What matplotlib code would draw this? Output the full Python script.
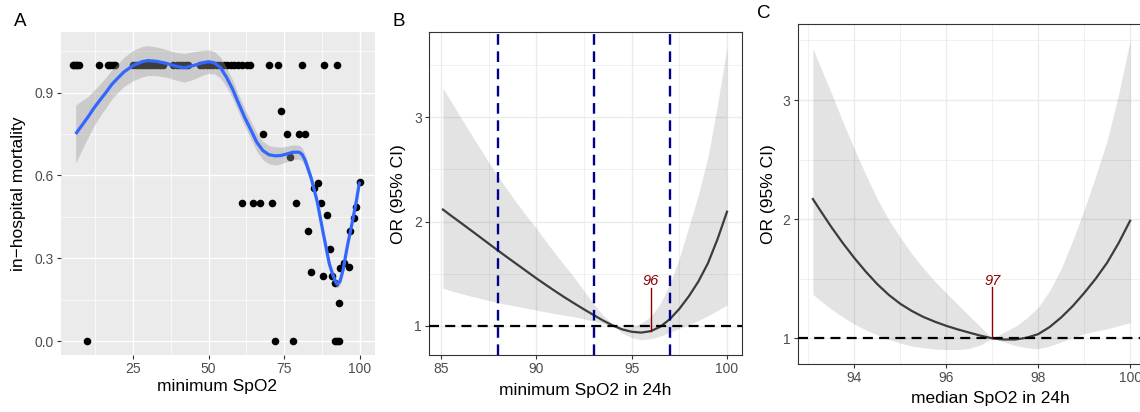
import matplotlib
matplotlib.use("Agg")
import matplotlib.pyplot as plt
from matplotlib.ticker import FixedLocator
import numpy as np

plt.rcParams['font.family'] = ['Liberation Sans', 'DejaVu Sans']

# ---------------- Panel A data ----------------
# patients with mortality 1.0 (top row)
a_top_x = [5, 5.5, 6, 6.6, 7, 13.7, 16.6, 17.4, 18.5, 19.2,
           25, 26, 27, 28, 29, 30, 31, 32, 33, 34, 35,
           38.3, 39.5, 40.5, 41.5, 42.5, 43.2,
           47.2, 48.3, 49.4, 50.5, 51.6, 52.7,
           53.8, 55, 56.2, 57.4, 58.6, 59.8, 61, 62.6, 63.7,
           70.1, 73.1, 81, 88.2, 92.6]
# remaining points
a_oth_x = [74.0, 68.0, 76.0, 79.9, 82.1, 77.0,
           61, 64.8, 67.1, 71.0, 79, 87.3,
           86.1, 85.0, 100, 89.1, 99, 98.1, 83.1, 96.7,
           90.2, 94.8, 96.4, 93.6, 84.0, 88.0, 90.9, 92.0, 93.1,
           9.8, 72, 78, 91.9, 92.5, 93.3]
a_oth_y = [0.833, 0.75, 0.75, 0.75, 0.75, 0.667,
           0.5, 0.5, 0.5, 0.5, 0.5, 0.5,
           0.571, 0.556, 0.577, 0.457, 0.484, 0.444, 0.4, 0.4,
           0.333, 0.281, 0.269, 0.263, 0.25, 0.236, 0.236, 0.211, 0.136,
           0, 0, 0, 0, 0, 0]

a_smooth_x = [6, 8, 10, 12, 14, 16, 18, 20, 22, 25, 28, 30, 33, 36, 39, 42, 45, 48,
              50, 52, 54, 56, 58, 60, 62, 64, 66, 68, 70, 72, 74, 76, 78, 80, 81,
              82, 84, 86, 88, 90, 91, 92, 92.6, 93.5, 94.5, 96, 97.5, 99, 100]
a_smooth_y = [0.75, 0.78, 0.81, 0.843, 0.872, 0.90, 0.93, 0.953, 0.975, 0.998, 1.012,
              1.016, 1.013, 1.006, 0.996, 0.99, 0.998, 1.008, 1.012, 1.008, 0.99, 0.955,
              0.912, 0.86, 0.81, 0.765, 0.72, 0.69, 0.675, 0.671, 0.672, 0.678, 0.684,
              0.684, 0.676, 0.655, 0.59, 0.505, 0.39, 0.28, 0.245, 0.215, 0.207, 0.215,
              0.255, 0.345, 0.425, 0.51, 0.577]
a_band_half = [0.105, 0.09, 0.075, 0.065, 0.058, 0.055, 0.053, 0.052, 0.053, 0.055,
               0.055, 0.054, 0.052, 0.05, 0.05, 0.052, 0.05, 0.045, 0.043, 0.04, 0.038,
               0.035, 0.033, 0.032, 0.032, 0.032, 0.033, 0.033, 0.033, 0.033, 0.03,
               0.028, 0.027, 0.025, 0.024, 0.022, 0.018, 0.016, 0.015, 0.015, 0.015,
               0.015, 0.015, 0.015, 0.015, 0.015, 0.015, 0.015, 0.015]

# ---------------- Panel B data ----------------
b_x = [85.1, 85.5, 86, 86.5, 87, 87.5, 88, 88.5, 89, 89.5, 90, 90.5, 91, 91.5, 92,
       92.5, 93, 93.5, 94, 94.2, 94.5, 95, 95.5, 96, 96.5, 97, 97.5, 98, 98.5, 99,
       99.5, 100]
b_or = [2.115, 2.06, 1.993, 1.925, 1.857, 1.788, 1.72, 1.653, 1.587, 1.521, 1.455,
        1.392, 1.330, 1.270, 1.213, 1.157, 1.103, 1.05, 1.003, 0.988, 0.965, 0.942,
        0.934, 0.948, 0.99, 1.063, 1.162, 1.283, 1.425, 1.60, 1.83, 2.094]
b_hi = [3.28, 3.16, 3.01, 2.86, 2.715, 2.57, 2.43, 2.30, 2.17, 2.05, 1.935, 1.81,
        1.69, 1.575, 1.46, 1.335, 1.21, 1.10, 1.015, 1.0, 0.985, 0.99, 1.025, 1.09,
        1.21, 1.40, 1.65, 1.95, 2.26, 2.62, 3.12, 3.68]
b_lo = [1.36, 1.337, 1.31, 1.287, 1.265, 1.242, 1.22, 1.202, 1.185, 1.167, 1.15,
        1.132, 1.115, 1.10, 1.085, 1.065, 1.045, 1.02, 0.99, 0.975, 0.93, 0.885,
        0.865, 0.875, 0.90, 0.935, 0.975, 1.012, 1.05, 1.095, 1.145, 1.199]
b_cutoffs = [88, 93, 97]
b_nadir = 96
b_nadir_or = 0.95

# ---------------- Panel C data ----------------
c_x = [93.1, 93.25, 93.5, 93.75, 94, 94.25, 94.5, 94.75, 95, 95.25, 95.5, 95.75,
       96, 96.25, 96.5, 96.75, 97, 97.25, 97.5, 97.75, 98, 98.25, 98.5, 98.75, 99,
       99.25, 99.5, 99.75, 100]
c_or = [2.169, 2.08, 1.935, 1.80, 1.675, 1.56, 1.455, 1.365, 1.29, 1.23, 1.18, 1.14,
        1.105, 1.075, 1.048, 1.022, 1.0, 0.99, 0.99, 1.005, 1.035, 1.095, 1.175,
        1.27, 1.38, 1.50, 1.635, 1.80, 1.987]
c_hi = [3.433, 3.29, 3.06, 2.82, 2.59, 2.375, 2.17, 1.995, 1.85, 1.71, 1.59, 1.48,
        1.38, 1.285, 1.19, 1.095, 1.0, 1.05, 1.10, 1.17, 1.26, 1.40, 1.585, 1.82,
        2.08, 2.36, 2.66, 3.05, 3.50]
c_lo = [1.369, 1.32, 1.245, 1.18, 1.12, 1.07, 1.03, 0.99, 0.96, 0.935, 0.92, 0.91,
        0.905, 0.905, 0.915, 0.945, 1.0, 0.97, 0.94, 0.92, 0.912, 0.935, 0.97, 1.005,
        1.04, 1.06, 1.08, 1.105, 1.131]
c_nadir = 97
c_nadir_or = 1.0

W, H = 1140, 412
fig = plt.figure(figsize=(W / 100, H / 100), dpi=100)


def rect(l, r, t, b):
    return [l / W, 1 - b / H, (r - l) / W, (b - t) / H]


TICKC = '#333333'
LABC = '#4D4D4D'

# ---------------- Panel A ----------------
axA = fig.add_axes(rect(61, 375, 32, 355))
axA.set_facecolor('#EBEBEB')
for s in axA.spines.values():
    s.set_visible(False)
axA.set_xlim(1.16, 105.13)
axA.set_ylim(-0.0507, 1.1196)
axA.xaxis.set_major_locator(FixedLocator([25, 50, 75, 100]))
axA.xaxis.set_minor_locator(FixedLocator([12.5, 37.5, 62.5, 87.5]))
axA.yaxis.set_major_locator(FixedLocator([0, 0.3, 0.6, 0.9]))
axA.yaxis.set_minor_locator(FixedLocator([0.15, 0.45, 0.75, 1.05]))
axA.set_yticklabels(['0.0', '0.3', '0.6', '0.9'])
axA.grid(which='major', color='white', lw=1.0)
axA.grid(which='minor', color='white', lw=0.5)
axA.set_axisbelow(True)
axA.scatter(a_top_x, [1.0] * len(a_top_x), s=30, color='black', zorder=2, linewidths=0)
axA.scatter(a_oth_x, a_oth_y, s=30, color='black', zorder=2, linewidths=0)
sx = np.array(a_smooth_x)
sy = np.array(a_smooth_y)
hw = np.array(a_band_half)
axA.fill_between(sx, sy - hw, sy + hw, color='#999999', alpha=0.4, lw=0, zorder=3)
axA.plot(sx, sy, color='#3366FF', lw=2.3, zorder=4, solid_capstyle='butt')
axA.set_xlabel('minimum SpO2', fontsize=12.5)
axA.set_ylabel('in\u2212hospital mortality', fontsize=12.5)
axA.xaxis.set_label_coords((217 - 61) / 314, (355 - 386) / 323)
axA.yaxis.set_label_coords((19 - 61) / 314, 0.5)
axA.xaxis.label.set_va('center')
axA.yaxis.label.set_va('center')

# ---------------- Panel B ----------------
axB = fig.add_axes(rect(429, 741.7, 32.3, 355))
axB.set_xlim(84.37, 100.77)
axB.set_ylim(0.719, 3.816)
axB.xaxis.set_major_locator(FixedLocator([85, 90, 95, 100]))
axB.xaxis.set_minor_locator(FixedLocator([87.5, 92.5, 97.5]))
axB.yaxis.set_major_locator(FixedLocator([1, 2, 3]))
axB.yaxis.set_minor_locator(FixedLocator([1.5, 2.5, 3.5]))
axB.fill_between(b_x, b_lo, b_hi, color='black', alpha=0.11, lw=0, zorder=2)
axB.plot(b_x, b_or, color='#3C3C3C', lw=1.6, zorder=3)
axB.axhline(1, color='black', lw=1.6, dashes=(4.5, 2.8), zorder=4)
for xc in b_cutoffs:
    axB.axvline(xc, color='#00008B', lw=1.7, dashes=(4.5, 2.8), zorder=4)
axB.plot([b_nadir, b_nadir], [b_nadir_or, 1.36], color='#8B0000', lw=1.0, zorder=5)
axB.text(b_nadir, 1.43, str(b_nadir), color='#8B0000', fontsize=10.5, style='italic',
         ha='center', va='center', zorder=5)
axB.set_xlabel('minimum SpO2 in 24h', fontsize=12.5)
axB.set_ylabel('OR (95% CI)', fontsize=12.5)
axB.xaxis.set_label_coords((585 - 429) / 312.7, (355 - 390) / 322.7)
axB.yaxis.set_label_coords((399 - 429) / 312.7, 0.5)
axB.xaxis.label.set_va('center')
axB.yaxis.label.set_va('center')

# ---------------- Panel C ----------------
axC = fig.add_axes(rect(797.7, 1146, 24, 364.3))
axC.set_xlim(92.77, 100.345)
axC.set_ylim(0.782, 3.638)
axC.xaxis.set_major_locator(FixedLocator([94, 96, 98, 100]))
axC.xaxis.set_minor_locator(FixedLocator([93, 95, 97, 99]))
axC.yaxis.set_major_locator(FixedLocator([1, 2, 3]))
axC.yaxis.set_minor_locator(FixedLocator([1.5, 2.5, 3.5]))
axC.fill_between(c_x, c_lo, c_hi, color='black', alpha=0.11, lw=0, zorder=2)
axC.plot(c_x, c_or, color='#3C3C3C', lw=1.6, zorder=3)
axC.axhline(1, color='black', lw=1.6, dashes=(4.5, 2.8), zorder=4)
axC.plot([c_nadir, c_nadir], [c_nadir_or, 1.43], color='#8B0000', lw=1.0, zorder=5)
axC.text(c_nadir, 1.48, str(c_nadir), color='#8B0000', fontsize=10.5, style='italic',
         ha='center', va='center', zorder=5)
axC.set_xlabel('median SpO2 in 24h', fontsize=12.5)
axC.set_ylabel('OR (95% CI)', fontsize=12.5)
axC.xaxis.set_label_coords((990 - 797.7) / 348.3, (364.3 - 398) / 340.3)
axC.yaxis.set_label_coords((768 - 797.7) / 348.3, 0.5)
axC.xaxis.label.set_va('center')
axC.yaxis.label.set_va('center')

for ax in (axB, axC):
    ax.set_facecolor('white')
    for s in ax.spines.values():
        s.set_color('#333333')
        s.set_linewidth(0.8)
    ax.grid(which='major', color='#EBEBEB', lw=1.0)
    ax.grid(which='minor', color='#EBEBEB', lw=0.5)
    ax.set_axisbelow(True)

for ax in (axA, axB, axC):
    ax.tick_params(which='major', length=2.6, width=0.8, color=TICKC,
                   labelcolor=LABC, labelsize=10, pad=2.5)
    ax.tick_params(which='minor', length=0)

fig.text(20 / W, 1 - 21 / H, 'A', fontsize=13.5, ha='center', va='center')
fig.text(399 / W, 1 - 21 / H, 'B', fontsize=13.5, ha='center', va='center')
fig.text(764 / W, 1 - 14 / H, 'C', fontsize=13.5, ha='center', va='center')

fig.savefig('out.png', dpi=100)
